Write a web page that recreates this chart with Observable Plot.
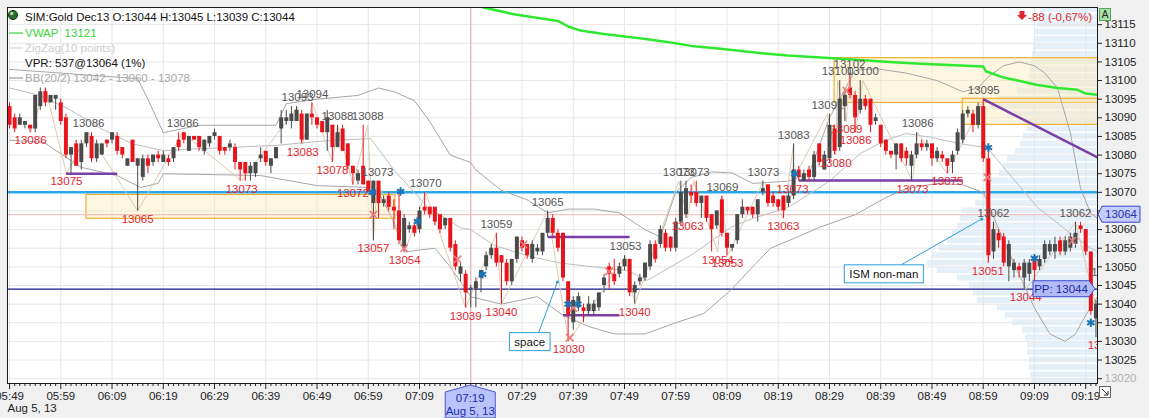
<!DOCTYPE html>
<html>
<head>
<meta charset="utf-8">
<script src="https://cdn.jsdelivr.net/npm/d3@7"></script>
<script src="https://cdn.jsdelivr.net/npm/@observablehq/plot@0.6"></script>
<style>
  html, body { margin: 0; padding: 0; background: #f0f0f0; overflow: hidden; }
  #chart { width: 1149px; height: 418px; }
  #chart svg { display: block; }
</style>
</head>
<body>
<div id="chart"></div>
<script>
// ---------------- DATA ----------------
const instrument = "SIM:Gold Dec13";
const startMinute = 5 * 60 + 49;          // first bar = 05:49
const dateLabel = "Aug 5, 13";
const vprText = "537@13064 (1%)";
const changeText = "-88 (-0,67%)";

// 1-minute OHLC bars (index 0 = 05:49)
const opens = [
13093,13090,13088,13088,13088,13087,13093,13097,13094,13095,
13094,13090,13080,13083,13078,13083,13085,13079,13080,13084,
13084,13085,13082,13077,13084,13077,13074,13079,13078,13080,
13078,13079,13079,13084,13086,13081,13085,13085,13081,13083,
13085,13085,13082,13082,13082,13078,13078,13075,13075,13079,
13081,13077,13079,13087,13089,13089,13089,13091,13084,13091,
13090,13089,13086,13088,13082,13087,13083,13077,13073,13077,
13073,13067,13073,13067,13069,13066,13065,13055,13060,13061,
13060,13066,13066,13066,13064,13061,13063,13056,13048,13048,
13044,13044,13047,13050,13053,13055,13053,13051,13046,13052,
13057,13056,13052,13054,13054,13059,13063,13059,13059,13046,
13035,13039,13039,13038,13038,13039,13045,13050,13048,13048,
13050,13052,13043,13046,13047,13050,13056,13056,13059,13058,
13055,13062,13064,13070,13070,13067,13069,13064,13061,13068,
13059,13055,13057,13064,13066,13066,13064,13070,13072,13069,
13068,13069,13067,13069,13076,13073,13076,13074,13083,13076,
13079,13087,13082,13093,13098,13096,13092,13095,13095,13089,
13088,13084,13081,13080,13083,13081,13077,13080,13083,13082,
13083,13079,13080,13079,13078,13081,13084,13091,13091,13088,
13093,13079,13054,13059,13058,13050,13049,13050,13047,13048,
13052,13050,13052,13054,13054,13057,13054,13055,13056,13061,
13060,13054,13036];
const highs = [
13094,13091,13091,13089,13088,13096,13098,13098,13096,13096,
13095,13091,13082,13084,13084,13086,13086,13084,13083,13084,
13086,13086,13082,13079,13084,13079,13080,13080,13080,13081,
13081,13080,13082,13086,13086,13085,13085,13085,13084,13085,
13087,13085,13082,13084,13083,13078,13078,13078,13078,13082,
13081,13079,13082,13092,13092,13093,13093,13092,13091,13094,
13090,13089,13092,13088,13088,13088,13083,13077,13076,13088,
13073,13073,13073,13069,13070,13068,13070,13064,13062,13062,
13066,13070,13066,13066,13064,13063,13063,13057,13051,13049,
13045,13047,13049,13054,13056,13059,13053,13052,13052,13058,
13058,13056,13057,13056,13059,13065,13064,13060,13059,13046,
13042,13043,13040,13042,13041,13043,13048,13051,13052,13051,
13053,13052,13046,13048,13051,13057,13057,13061,13060,13058,
13063,13073,13073,13072,13073,13069,13069,13064,13065,13069,
13059,13056,13064,13068,13066,13066,13068,13073,13072,13070,
13068,13069,13070,13083,13077,13076,13077,13081,13083,13081,
13091,13088,13100,13097,13102,13097,13100,13096,13095,13091,
13088,13084,13081,13083,13083,13082,13081,13086,13084,13084,
13083,13082,13081,13079,13081,13087,13092,13093,13092,13094,
13095,13082,13062,13060,13059,13057,13052,13051,13052,13052,
13053,13053,13057,13057,13058,13058,13058,13059,13062,13062,
13060,13054,13041];
const lows = [
13087,13086,13088,13087,13086,13086,13092,13093,13094,13092,
13088,13079,13075,13077,13076,13082,13078,13078,13080,13082,
13083,13080,13079,13077,13078,13065,13073,13075,13077,13078,
13078,13077,13078,13081,13083,13081,13084,13081,13080,13082,
13084,13080,13080,13081,13076,13073,13073,13073,13074,13078,
13077,13075,13079,13083,13088,13087,13089,13083,13084,13088,
13087,13086,13081,13078,13082,13081,13076,13072,13072,13072,
13070,13057,13063,13066,13065,13060,13056,13054,13059,13058,
13059,13064,13063,13061,13059,13060,13054,13049,13046,13039,
13039,13039,13043,13049,13052,13050,13040,13045,13045,13051,
13054,13052,13051,13053,13053,13058,13058,13054,13046,13030,
13033,13038,13035,13037,13037,13038,13043,13044,13045,13047,
13049,13042,13040,13045,13046,13049,13051,13055,13054,13054,
13054,13061,13063,13067,13066,13063,13062,13054,13060,13058,
13053,13054,13056,13063,13064,13063,13062,13069,13066,13066,
13065,13063,13066,13068,13073,13073,13073,13073,13077,13076,
13078,13080,13081,13089,13095,13086,13091,13092,13086,13088,
13082,13080,13079,13076,13078,13077,13073,13079,13081,13081,
13077,13078,13078,13075,13075,13080,13083,13090,13086,13087,
13078,13051,13052,13055,13050,13046,13047,13047,13044,13046,
13046,13049,13051,13053,13052,13053,13053,13054,13055,13059,
13053,13037,13031];
const closes = [
13088,13087,13090,13089,13087,13096,13097,13094,13096,13096,
13089,13080,13082,13077,13083,13086,13079,13083,13083,13083,
13086,13081,13080,13079,13078,13079,13079,13077,13080,13079,
13080,13078,13082,13082,13084,13085,13084,13082,13084,13085,
13086,13081,13081,13083,13078,13076,13075,13077,13078,13080,
13078,13079,13082,13090,13090,13091,13092,13084,13091,13090,
13088,13086,13090,13082,13086,13081,13077,13075,13075,13072,
13070,13073,13067,13068,13066,13065,13057,13063,13061,13059,
13065,13065,13064,13062,13060,13063,13055,13050,13050,13043,
13044,13046,13049,13053,13055,13051,13051,13046,13052,13058,
13055,13053,13056,13055,13059,13063,13059,13055,13047,13037,
13041,13042,13038,13040,13040,13043,13047,13048,13046,13050,
13052,13043,13045,13047,13051,13056,13052,13060,13055,13055,
13062,13070,13071,13069,13067,13069,13063,13060,13065,13059,
13055,13056,13064,13066,13065,13064,13068,13071,13067,13067,
13066,13065,13069,13076,13074,13075,13074,13080,13078,13080,
13088,13081,13095,13096,13096,13090,13095,13093,13088,13090,
13083,13081,13080,13083,13079,13079,13080,13083,13082,13083,
13079,13081,13079,13077,13080,13086,13091,13092,13088,13093,
13079,13053,13060,13057,13051,13056,13051,13049,13051,13051,
13049,13052,13056,13056,13056,13054,13057,13058,13059,13060,
13054,13038,13040];

// Bollinger bands (20/2): [bar index, price]
const bbUpper = [[0,13103],[10,13102],[20,13101],[25,13100.5],[27,13095],[30,13086],[37,13088],[52,13088],[54,13093.8],[60,13095],[68,13096],[72,13098],[75,13097],[79,13094.6],[82,13089],[86,13080],[90,13078],[91,13076],[96,13070.5],[101,13068],[105,13064.5],[109,13065.5],[114,13065.5],[119,13064.5],[124,13060],[127,13058],[130,13070],[133,13074],[137,13075.5],[141,13075.2],[145,13072.4],[152,13073],[156,13075],[160,13090],[165,13102.7],[169,13103.2],[175,13102],[181,13100],[186,13097],[189,13098],[191,13101],[194,13104],[197,13105],[200,13104],[202,13102],[204.5,13098],[207,13086],[209,13071],[211,13064.3],[212.3,13063]];
const bbMiddle = [[0,13098],[6,13096],[12,13092],[18,13087],[24,13083],[30,13081.2],[37,13081.7],[52,13082.6],[63,13084],[70.5,13084.4],[75,13076],[81.6,13066],[88,13060.5],[90,13060],[94.5,13055.8],[101,13053],[107.5,13051],[114,13050],[120.6,13049],[124.5,13046.4],[133.5,13053.6],[140.7,13060.6],[145,13063],[152,13066],[160,13073],[166,13080.4],[171,13084],[175,13085.8],[180,13084.7],[185.6,13083],[190.8,13082],[195,13075],[200.6,13066],[207,13059],[211,13055],[212.3,13054]];
const bbLower = [[0,13084],[6.7,13083.4],[14,13076.7],[21,13074.5],[25.6,13071.3],[29,13072.4],[30,13075],[49,13074.5],[60,13071.8],[70.5,13071.3],[72,13070],[75,13062],[77,13054],[83,13055],[86,13050],[90,13042],[96,13040],[103,13042],[108,13037],[113,13034],[118,13032],[124,13032],[130,13035],[135.5,13037.5],[140.7,13043.7],[145,13050],[148.5,13055],[152,13057],[158,13060.6],[165,13064],[171,13068.6],[175,13071],[181,13072.4],[186,13072],[190,13070],[194,13057],[197,13048],[200,13039],[203,13032],[206,13030],[208,13032],[210,13037],[212.3,13042]];

// VWAP: [bar index, price]
const vwap = [[85,13122.5],[90,13121],[92.5,13119.6],[98.4,13117.8],[107,13116],[109,13114.5],[111.4,13113.4],[116,13112.5],[124.5,13111.1],[129,13110.2],[133,13109.3],[138.8,13108.5],[148.5,13107.1],[151.8,13106.7],[161.5,13105.9],[172.5,13104.9],[177.8,13104.5],[190,13103.8],[190.5,13102.5],[194,13100.8],[196.7,13100],[200.6,13098.8],[204.5,13098],[208.4,13097.5],[210,13096.5],[212.3,13096.2]];

// ZigZag(10 points) swing points
const zzM = [4.1,7,11.1,15.4,25,33.8,45.3,56.2,57.2,59.1,63,64,67,69.9,71,71.8,77.1,81.2,89,95,96,105,109.1,120.2,122,130.6,132.3,133.5,138.2,139.1,140.1,147.1,151,153,152.8,159.6,161.2,161.6,163.3,163.9,165.1,166.5,176.2,177.2,183,190.1,190.9,192,198.3,208,213.5,214.2];
const zzP = [13086,13098,13075,13086,13065,13086,13073,13093,13083,13094,13078,13088,13072,13088,13057,13073,13054,13070,13039,13059,13040,13065,13030,13053,13040,13073,13063,13073,13054,13069,13053,13073,13063,13083,13073,13091,13080,13100,13089,13102,13086,13100,13073,13086,13075,13095,13051,13062,13044,13062,13031,13046];
const zzKind = ["L","H","L","H","L","H","L","H","L","H","L","H","L","H","L","H","L","H","L","H","L","H","L","H","L","H","L","H","L","H","L","H","L","H","L","H","L","H","L","H","L","H","L","H","L","H","L","H","L","H","L","H"];
const zzUnlabeled = [1];

// Volume profile (VPR) bins: price centre and relative volume
const vpPrice = [13119,13117,13115,13113,13111,13109,13107,13105,13103,13101,13099,13097,13095,13093,13091,13089,13087,13085,13083,13081,13079,13077,13075,13073,13071,13069,13067,13065,13063,13061,13059,13057,13055,13053,13051,13049,13047,13045,13043,13041,13039,13037,13035,13033,13031,13029,13027,13025,13023,13021,13019];
const vpVolume = [57,58,60,62,63,64,65,66,67,68,70,80,100,107,90,72,70,74,77,82,90,94,98,106,112,115,122,135,137,140,145,150,158,165,170,160,140,128,124,120,100,92,85,75,72,70,70,68,68,67,66];

// Trade markers
const buyM = [70.8,76.3,79.6,92.3,109,110.9,153.2,191,200,211];
const buyP = [13070,13070.2,13062.2,13048,13040,13040,13075,13082,13052.3,13035];
const sellM = [71,77,87.4,100.3,109.3,110,117,163.3,190.8,207.4];
const sellP = [13064,13055,13052,13056,13031,13039,13048.8,13097.3,13074,13057];

// Drawn purple lines
const segM1 = [11,105,108,154,190];
const segM2 = [21,121,119,186,212.3];
const segP1 = [13075,13058,13037,13073.2,13095];
const segP2 = [13075,13058,13037,13073.2,13079.4];

// Yellow zones
const zoneM1 = [15,161,186];
const zoneM2 = [75.3,214,214];
const zoneLo = [13062.9,13094,13088.1];
const zoneHi = [13069.3,13106,13095.1];

// Text annotations
const noteText = ["space","ISM non-man"];
const noteM = [101.6,170.7];
const noteP = [13029.8,13048];
const noteTipM = [107,189.8];
const noteTipP = [13045.8,13062.7];

// Levels
const levelBlue = 13070;
const pivotPP = 13044;
const lastPrice = 13064;
const crossBar = 90;

// Axis ticks
const yTicks = d3.range(13020, 13116, 5);
const xMajor = d3.range(0, 213, 10);
const xMinor = d3.range(0, 213, 1).filter(d => d % 10 !== 0);

// ---------------- BUILD ----------------
const X_MIN = -0.4, X_MAX = 212.3;
const fmtTime = m => { const t = startMinute + Math.round(m); return String(Math.floor(t / 60)).padStart(2, "0") + ":" + String(t % 60).padStart(2, "0"); };

const candles = opens.map((o, i) => ({m: i, o, h: highs[i], l: lows[i], c: closes[i]}));
const candleColor = d => d.c >= d.o ? "#4a4a4a" : "#e8141c";
const vp = vpPrice.map((p, i) => ({p, v: vpVolume[i]}));
const vpMax = d3.max(vpVolume);
const VP_SPAN = 33.2; // bars of max volume span this many minutes
const zz = zzM.map((m, i) => ({m, p: zzP[i], k: zzKind[i], show: !zzUnlabeled.includes(i)}));
const buys = buyM.map((m, i) => ({m, p: buyP[i]}));
const sells = sellM.map((m, i) => ({m, p: sellP[i]}));
const segs = segM1.map((m, i) => ({m1: m, m2: segM2[i], p1: segP1[i], p2: segP2[i]}));
const zones = zoneM1.map((m, i) => ({m1: m, m2: zoneM2[i], lo: zoneLo[i], hi: zoneHi[i]}));

const chart = Plot.plot({
  width: 1149, height: 418,
  marginLeft: 7, marginRight: 52, marginTop: 7, marginBottom: 35,
  style: {fontFamily: "'Liberation Sans', Arial, sans-serif", fontSize: "11px", background: "transparent", color: "#222", overflow: "visible"},
  x: {domain: [X_MIN, X_MAX], axis: null},
  y: {domain: [13018.7, 13119.6], axis: null},
  marks: [
    Plot.frame({fill: "white", stroke: null}),
    Plot.rect(vp, {x1: d => X_MAX - d.v / vpMax * VP_SPAN, x2: d => X_MAX + 1, y1: d => d.p - 0.8, y2: d => d.p + 0.8, fill: "#e6f0f9", clip: true}),
    Plot.gridY({ticks: yTicks, stroke: "#e6e6e6", strokeOpacity: 1}),
    Plot.gridX({ticks: xMajor, stroke: "#e6e6e6", strokeOpacity: 1}),
    Plot.rect(zones, {x1: "m1", x2: "m2", y1: "lo", y2: "hi", fill: "#fbe9b4", fillOpacity: 0.42, stroke: "#f0b030", strokeWidth: 1.2, clip: true}),
    Plot.ruleX([crossBar], {stroke: "#f4a6a6", strokeWidth: 1}),
    Plot.ruleY([lastPrice], {stroke: "#f4b4b4", strokeWidth: 1}),
    Plot.ruleY([levelBlue], {stroke: "#2aa8e8", strokeWidth: 2.5}),
    Plot.ruleY([pivotPP], {stroke: "#16168a", strokeWidth: 1.3}),
    Plot.line(bbUpper, {x: d => d[0], y: d => d[1], stroke: "#a6a6a6", strokeWidth: 1, clip: true}),
    Plot.line(bbMiddle, {x: d => d[0], y: d => d[1], stroke: "#bdbdbd", strokeWidth: 1, clip: true}),
    Plot.line(bbLower, {x: d => d[0], y: d => d[1], stroke: "#a6a6a6", strokeWidth: 1, clip: true}),
    Plot.line(vwap, {x: d => d[0], y: d => d[1], stroke: "#30e830", strokeWidth: 2.5, clip: true}),
    Plot.line(zz, {x: "m", y: "p", stroke: "#dccab4", strokeWidth: 1, clip: true}),
    Plot.link(segs, {x1: "m1", y1: "p1", x2: "m2", y2: "p2", stroke: "#7a3ea6", strokeWidth: 2.5, clip: true}),
    Plot.ruleX(candles, {x: "m", y1: "l", y2: "h", stroke: candleColor, strokeWidth: 1, clip: true}),
    Plot.ruleX(candles, {x: "m", y1: "o", y2: d => d.c === d.o ? d.o + 0.3 : d.c, stroke: candleColor, strokeWidth: 4, clip: true}),
    Plot.dot(sells, {x: "m", y: "p", symbol: "times", r: 3.5, stroke: "#f07878", strokeWidth: 1.6}),
    Plot.dot(buys, {x: "m", y: "p", symbol: "asterisk", r: 4, stroke: "#1b74b4", strokeWidth: 2}),
    Plot.text(zz.filter(d => d.k === "H" && d.show), {x: "m", y: "p", text: d => String(d.p), dy: -9, fill: "#555", fontSize: 11.5, clip: true}),
    Plot.text(zz.filter(d => d.k === "L" && d.show), {x: "m", y: "p", text: d => String(d.p), dy: 8, fill: "#e3262e", fontSize: 11.5, clip: true}),
    Plot.axisX({ticks: xMinor, anchor: "bottom", tickSize: 3, tickFormat: () => "", label: null}),
    Plot.axisX({ticks: xMajor, anchor: "bottom", tickSize: 6, tickPadding: 2, tickFormat: fmtTime, fontSize: 11.5, label: null}),
    Plot.axisY({ticks: yTicks, anchor: "right", tickSize: 4, tickPadding: 3, tickFormat: d => d === 13020 ? "" : String(d), fontSize: 11.5, label: null}),
    Plot.text([13020], {y: d => d, frameAnchor: "right", dx: 7, textAnchor: "start", fill: "#b0b0b0", fontSize: 11.5, text: d => String(d)}),
    Plot.text([dateLabel], {frameAnchor: "bottom-left", dy: 28, dx: 0, textAnchor: "start", fill: "#222", fontSize: 11.5}),
    Plot.frame({stroke: "#1a1a1a"})
  ]
});
document.getElementById("chart").append(chart);

// ---------------- OVERLAYS (legend, tags, notes) ----------------
const X = chart.scale("x"), Y = chart.scale("y");
const svg = d3.select(chart);
const ov = svg.append("g").style("font-size", "11.5px").attr("text-anchor", "start");
const at = (arr, m) => { const f = arr.find(d => d[0] === m); return f ? f[1] : ""; };

// legend
ov.append("circle").attr("cx", 13).attr("cy", 15).attr("r", 4.6).attr("fill", "#2e6b2e").attr("stroke", "#173817");
ov.append("circle").attr("cx", 11.7).attr("cy", 13.5).attr("r", 1.7).attr("fill", "#a8e0a8");
const legendRows = [
  {y: 17, text: `${instrument} O:${opens[crossBar]} H:${highs[crossBar]} L:${lows[crossBar]} C:${closes[crossBar]}`, fill: "#111", dash: null},
  {y: 33, text: `VWAP  ${at(vwap, crossBar)}`, fill: "#3ad43a", dash: "#3ad43a"},
  {y: 48, text: "ZigZag(10 points)", fill: "#cdcdcd", dash: "#d4d4d4"},
  {y: 63, text: `VPR: ${vprText}`, fill: "#111", dash: null},
  {y: 78, text: `BB(20/2) ${at(bbLower, crossBar)} - ${at(bbMiddle, crossBar)} - ${at(bbUpper, crossBar)}`, fill: "#a8a8a8", dash: "#9a9a9a"}
];
legendRows.forEach(r => {
  if (r.dash) ov.append("line").attr("x1", 9).attr("x2", 23).attr("y1", r.y).attr("y2", r.y).attr("stroke", r.dash).attr("stroke-width", 1.2);
  ov.append("text").attr("x", 25).attr("y", r.y).attr("dy", "0.35em").attr("text-anchor", "start").attr("fill", r.fill).text(r.text);
});

// top-right change
ov.append("path").attr("d", "M1019.5,11 H1024.5 V15 H1027 L1022,20 L1017,15 H1019.5 Z").attr("fill", "#e0262c");
ov.append("text").attr("x", 1092).attr("y", 17).attr("dy", "0.35em").attr("text-anchor", "end").attr("fill", "#e0262c").text(changeText);
ov.append("rect").attr("x", 1099.5).attr("y", 8.5).attr("width", 11).attr("height", 12).attr("fill", "#a6e3a6").attr("stroke", "#5aa55a");
ov.append("text").attr("x", 1105).attr("y", 14.5).attr("dy", "0.35em").attr("text-anchor", "middle").style("font-size", "10px").attr("fill", "#222").text("A");
ov.append("rect").attr("x", 1099.5).attr("y", 386.5).attr("width", 11).attr("height", 11).attr("fill", "#fafafa").attr("stroke", "#666");
ov.append("path").attr("d", "M1102,389 L1108,395 M1108,391 V395 H1104").attr("stroke", "#333").attr("fill", "none");

// last price tag
const yl = Y.apply(lastPrice);
ov.append("path").attr("d", `M1098,${yl} L1102,${yl - 8} H1140 V${yl + 8} H1102 Z`).attr("fill", "#c5cdfa").attr("stroke", "#3846c8");
ov.append("text").attr("x", 1121).attr("y", yl).attr("dy", "0.35em").attr("text-anchor", "middle").attr("fill", "#2333a8").text(String(lastPrice));

// PP tag
const yp = Y.apply(pivotPP);
ov.append("path").attr("d", `M1033,${yp - 8} H1089 L1095,${yp} L1089,${yp + 8} H1033 Z`).attr("fill", "#b3bbf7").attr("stroke", "#3a48d0");
ov.append("text").attr("x", 1061).attr("y", yp).attr("dy", "0.35em").attr("text-anchor", "middle").attr("fill", "#1c2a9c").text(`PP: ${pivotPP}`);

// crosshair time tag
const xc = X.apply(crossBar);
ov.append("path").attr("d", `M${xc - 25},418 V392 L${xc},385 L${xc + 25},392 V418 Z`).attr("fill", "#bac4fa").attr("stroke", "#4958d4");
ov.append("text").attr("x", xc).attr("y", 398).attr("dy", "0.35em").attr("text-anchor", "middle").attr("fill", "#1a2ab0").text(fmtTime(crossBar));
ov.append("text").attr("x", xc).attr("y", 411).attr("dy", "0.35em").attr("text-anchor", "middle").attr("fill", "#1a2ab0").text(dateLabel);

// notes
noteText.forEach((t, i) => {
  const cx = X.apply(noteM[i]), cy = Y.apply(noteP[i]);
  const tmp = ov.append("text").text(t);
  const w = tmp.node().getComputedTextLength();
  tmp.remove();
  const bw = w + 10, bh = 18;
  const tx = X.apply(noteTipM[i]), ty = Y.apply(noteTipP[i]);
  ov.append("line").attr("x1", cx + bw * 0.22).attr("y1", cy - bh / 2).attr("x2", tx).attr("y2", ty).attr("stroke", "#2a9fd8").attr("stroke-width", 1);
  ov.append("circle").attr("cx", tx).attr("cy", ty).attr("r", 1.6).attr("fill", "#2a9fd8");
  ov.append("rect").attr("x", cx - bw / 2).attr("y", cy - bh / 2).attr("width", bw).attr("height", bh).attr("fill", "white").attr("stroke", "#2a9fd8");
  ov.append("text").attr("x", cx).attr("y", cy).attr("dy", "0.35em").attr("text-anchor", "middle").attr("fill", "#111").text(t);
});
</script>
</body>
</html>
